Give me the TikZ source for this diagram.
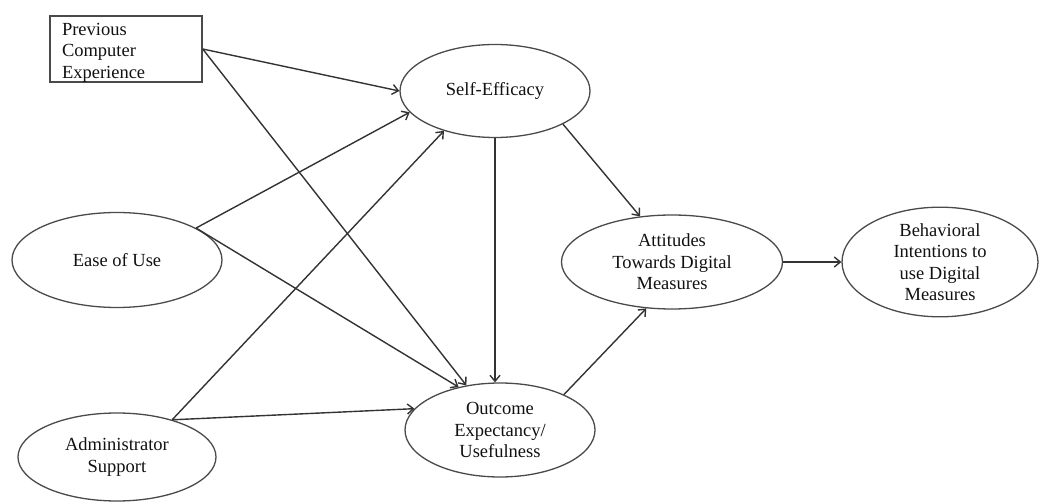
\documentclass[tikz,border=0pt]{standalone}
\usepackage{fontspec}
\setmainfont{Liberation Serif}
\usetikzlibrary{arrows.meta,shapes.geometric}
\definecolor{pathgray}{HTML}{333333}
\definecolor{rimgray}{HTML}{4A4A4A}
\definecolor{labelink}{HTML}{111111}

\begin{document}
\begin{tikzpicture}[
  x=1pt,y=-1pt,
  >={Straight Barb[length=6pt,width=10pt]},
  construct/.style={ellipse,draw=rimgray,line width=1.3pt,inner sep=0pt,
    align=center,text=labelink},
  link/.style={pathgray,line width=1.4pt,->},
  every node/.style={font=\fontsize{18.5}{21.5}\selectfont}
]
  \useasboundingbox (0,0) rectangle (1042,502);
  % constructs
  \node[draw=rimgray,line width=1.4pt,text width=128pt,inner xsep=12pt,
    inner ysep=0pt,minimum height=66pt,align=left,text=labelink] (prev) at (126,49)
    {\rule{0pt}{19pt}Previous\\Computer\\Experience};
  \node[construct,minimum width=190pt,minimum height=93pt] (self) at (495,91) {Self-Efficacy};
  \node[construct,minimum width=210pt,minimum height=95pt] (ease) at (117,260) {Ease of Use};
  \node[construct,minimum width=198pt,minimum height=88pt] (admin) at (117,457) {Administrator\\Support};
  \node[construct,minimum width=190pt,minimum height=94pt] (outcome) at (500,430) {Outcome\\Expectancy/\\Usefulness};
  \node[construct,minimum width=221pt,minimum height=94pt] (attitude) at (672,262) {Attitudes\\Towards Digital\\Measures};
  \node[construct,minimum width=196pt,minimum height=100pt] (intent) at (940,262) {Behavioral\\Intentions to\\use Digital\\Measures};
  % paths
  \draw[link] (prev.east) -- (self.west);
  \draw[link] (prev.east) -- (outcome.127);
  \draw[link] (ease.22) -- (self.194);
  \draw[link] (ease.22) -- (outcome.134);
  \draw[link] (admin.34) -- (self.218);
  \draw[link] (admin.34) -- (outcome.166);
  \draw[link] (self.south) -- (self.south |- outcome.north);
  \draw[link] (self.-26) -- (attitude.125);
  \draw[link] (outcome.29) -- (attitude.-119);
  \draw[link] (attitude.east) -- (intent.west);
\end{tikzpicture}
\end{document}
